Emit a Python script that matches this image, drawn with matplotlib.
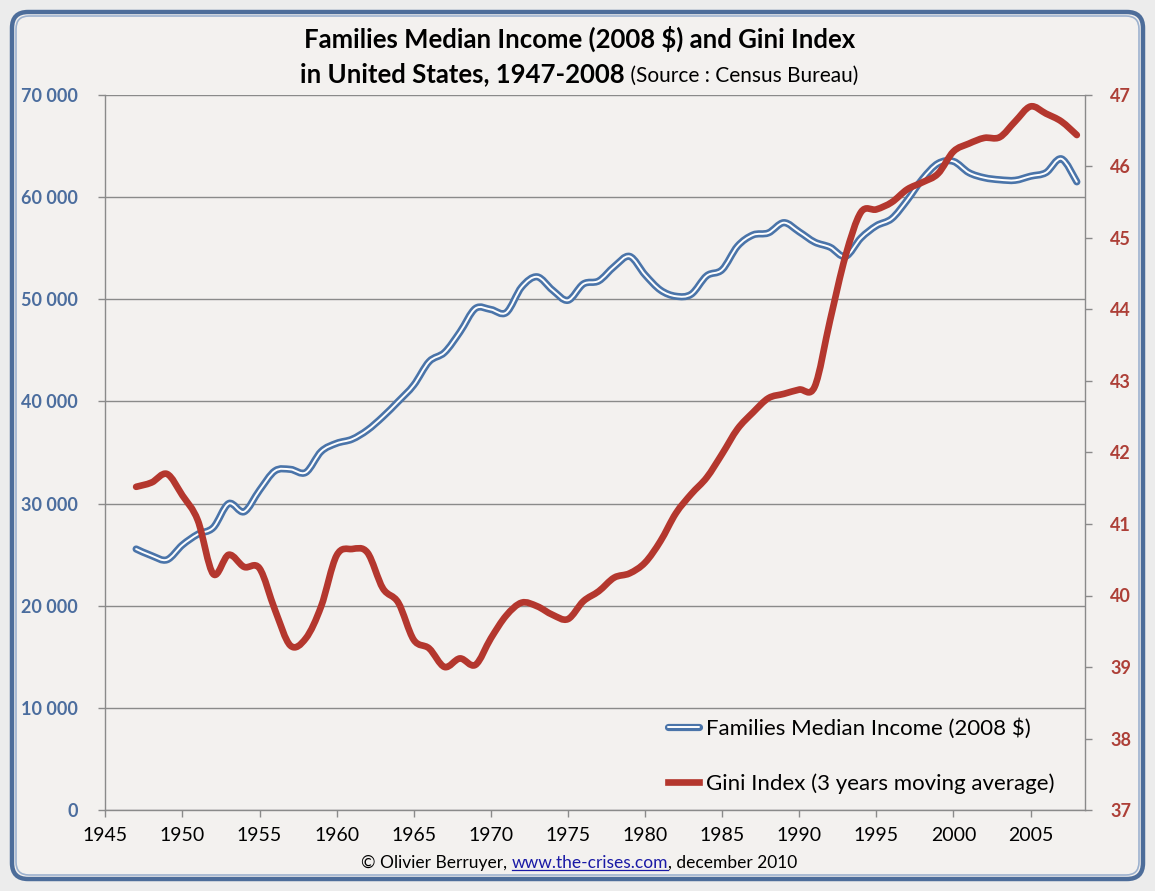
import numpy as np
import matplotlib
matplotlib.use('Agg')
import matplotlib.pyplot as plt
from matplotlib.path import Path
from matplotlib.patches import PathPatch, FancyBboxPatch
from matplotlib.lines import Line2D
from matplotlib.legend_handler import HandlerTuple
from matplotlib.transforms import IdentityTransform

# valeurs (1947-2008)
years = list(range(1947, 2009))

income = [25550, 24900, 24500, 25950, 27000, 27650, 30000, 29200, 31300, 33200,
          33350, 33050, 35100, 35900, 36300, 37200, 38500, 40000, 41600, 43900,
          44800, 46800, 49100, 49000, 48700, 51200, 52200, 50900, 49900, 51500,
          51800, 53200, 54200, 52400, 50900, 50300, 50500, 52300, 52900, 55200,
          56300, 56500, 57500, 56600, 55600, 55100, 54200, 56000, 57200, 57900,
          59700, 61800, 63300, 63500, 62400, 61900, 61700, 61650, 62050, 62400,
          63750, 61500]

gini = [41.52, 41.58, 41.70, 41.40, 41.05, 40.30, 40.57, 40.40, 40.38, 39.80,
        39.30, 39.40, 39.85, 40.56, 40.65, 40.60, 40.10, 39.90, 39.38, 39.26,
        39.00, 39.12, 39.03, 39.40, 39.72, 39.90, 39.85, 39.73, 39.67, 39.92,
        40.06, 40.25, 40.31, 40.46, 40.76, 41.15, 41.42, 41.65, 41.98, 42.33,
        42.56, 42.76, 42.82, 42.88, 42.92, 43.85, 44.75, 45.36, 45.40, 45.50,
        45.68, 45.78, 45.90, 46.21, 46.32, 46.40, 46.41, 46.63, 46.84, 46.74,
        46.63, 46.44]

x_ticks = list(range(1945, 2006, 5))
income_ticks = list(range(0, 70001, 10000))
income_labels = ['0', '10 000', '20 000', '30 000', '40 000', '50 000', '60 000', '70 000']
gini_ticks = list(range(37, 48))

label_income = 'Families Median Income (2008 $)'
label_gini = 'Gini Index (3 years moving average)'

BLUE = '#4a74a9'
BLUE_TXT = '#4b6d9e'
RED = '#b4372e'
RED_TXT = '#ad3f37'
GRID = '#8a8a8a'
FOND = '#f3f1ef'

plt.rcParams['font.family'] = ['Lato', 'DejaVu Sans']


def courbe_lissee(x, y):
    # courbe lissee type Excel (Bezier passant par les points)
    x = np.asarray(x, float)
    y = np.asarray(y, float)
    n = len(x)
    verts = [(x[0], y[0])]
    codes = [Path.MOVETO]
    for i in range(n - 1):
        a = i - 1 if i > 0 else i
        d = i + 2 if i + 2 < n else i + 1
        c1 = (x[i] + (x[i + 1] - x[a]) / 6, y[i] + (y[i + 1] - y[a]) / 6)
        c2 = (x[i + 1] - (x[d] - x[i]) / 6, y[i + 1] - (y[d] - y[i]) / 6)
        verts += [c1, c2, (x[i + 1], y[i + 1])]
        codes += [Path.CURVE4] * 3
    return Path(verts, codes)


fig = plt.figure(figsize=(11.55, 8.91), dpi=100)
fig.patch.set_facecolor('#ececec')

# cadre arrondi
cadre = FancyBboxPatch((12, 12), 1131, 867, boxstyle='round,pad=0,rounding_size=16',
                       transform=IdentityTransform(), facecolor=FOND,
                       edgecolor='#4d6d9a', linewidth=3.2, zorder=0)
fig.add_artist(cadre)
cadre2 = FancyBboxPatch((16, 16), 1123, 859, boxstyle='round,pad=0,rounding_size=13',
                        transform=IdentityTransform(), facecolor='none',
                        edgecolor='#9db2cf', linewidth=1.2, zorder=0)
fig.add_artist(cadre2)

ax1 = fig.add_axes([105.3 / 1155, 1 - 810 / 891, (1085 - 105.3) / 1155, (810 - 95) / 891])
ax1.set_facecolor('none')
ax2 = ax1.twinx()

ax1.set_xlim(1945, 2008.53)
ax1.set_ylim(0, 70000)
ax2.set_ylim(37, 47)

ax1.set_xticks(x_ticks, labels=[str(v) for v in x_ticks])
ax1.set_yticks(income_ticks, labels=income_labels, fontweight='bold', color=BLUE_TXT)
ax2.set_yticks(gini_ticks, labels=[str(v) for v in gini_ticks], fontweight='bold', color=RED_TXT)

ax1.tick_params(axis='x', direction='out', length=5, width=1, color=GRID,
                labelsize=14, pad=7, labelcolor='black')
ax1.tick_params(axis='y', direction='out', length=5, width=1, color=GRID,
                labelsize=13, pad=15)
ax2.tick_params(axis='y', direction='out', length=5, width=1, color=GRID,
                labelsize=13, pad=13)

ax1.grid(axis='y', color=GRID, linewidth=1)
ax1.set_axisbelow(True)
for s in ['top', 'right']:
    ax1.spines[s].set_visible(False)
for s in ['top', 'left', 'bottom']:
    ax2.spines[s].set_visible(False)
for sp in [ax1.spines['left'], ax1.spines['bottom'], ax2.spines['right']]:
    sp.set_color(GRID)
    sp.set_linewidth(1)

# revenu : double trait bleu
p_inc = courbe_lissee(years, income)
ax1.add_patch(PathPatch(p_inc, fill=False, edgecolor=BLUE, linewidth=5.2,
                        capstyle='round', joinstyle='round', zorder=3))
ax1.add_patch(PathPatch(p_inc, fill=False, edgecolor='white', linewidth=1.4,
                        capstyle='round', joinstyle='round', zorder=4))

# gini
p_gini = courbe_lissee(years, gini)
ax2.add_patch(PathPatch(p_gini, fill=False, edgecolor=RED, linewidth=4.8,
                        capstyle='round', joinstyle='round', zorder=3))

# legende
h_inc = (Line2D([], [], color=BLUE, lw=5.2, solid_capstyle='round'),
         Line2D([], [], color='white', lw=1.4, solid_capstyle='round'))
h_gini = Line2D([], [], color=RED, lw=4.8)
fig.legend([h_inc, h_gini], [label_income, label_gini],
           handler_map={tuple: HandlerTuple(ndivide=1)},
           loc='upper left', bbox_to_anchor=(668 / 1155, 1 - 718 / 891),
           frameon=False, fontsize=16, handlelength=1.4, handletextpad=0.3,
           labelspacing=1.55, borderpad=0, borderaxespad=0)

# titres et pied de page
rend = fig.canvas.get_renderer()


def ligne(morceaux, y_px):
    objs = []
    for texte, kw in morceaux:
        t = fig.text(0, 1 - y_px / 891, texte, va='baseline', ha='left', **kw)
        objs.append(t)
    largeurs = [t.get_window_extent(renderer=rend).width for t in objs]
    x = (1155 - sum(largeurs)) / 2 + 2
    for t, w in zip(objs, largeurs):
        t.set_x(x / 1155)
        x += w
    return objs


ligne([('Families Median Income (2008 $) and Gini Index',
        dict(fontsize=18.5, fontweight='bold'))], 48)
ligne([('in United States, 1947-2008', dict(fontsize=18.5, fontweight='bold')),
       (' (Source : Census Bureau)', dict(fontsize=15))], 82)
pied = ligne([('\u00a9 Olivier Berruyer, ', dict(fontsize=12.5)),
              ('www.the-crises.com', dict(fontsize=12.5, color='#1a1aa6')),
              (', december 2010', dict(fontsize=12.5))], 868)
bb = pied[1].get_window_extent(renderer=rend)
y_sous = 891 - 870
fig.add_artist(Line2D([bb.x0, bb.x1], [y_sous, y_sous], color='#1a1aa6', lw=0.9,
                      transform=IdentityTransform()))

fig.savefig('out.png', dpi=100, facecolor=fig.get_facecolor())
